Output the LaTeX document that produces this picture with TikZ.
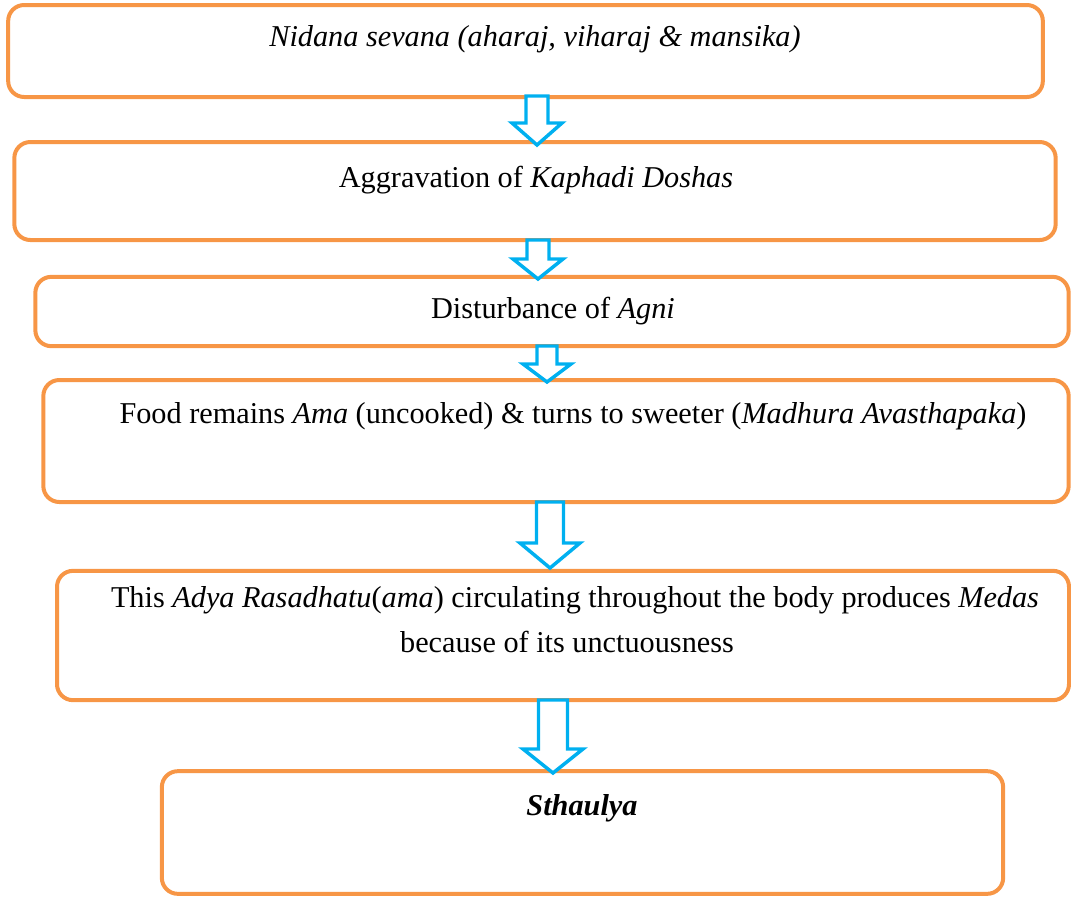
\documentclass[tikz,border=0pt]{standalone}
\usepackage{fontspec}
\setmainfont{Liberation Serif}
\usepackage{tikz}
\usetikzlibrary{calc}
\usetikzlibrary{positioning}
\definecolor{stageorange}{RGB}{247,150,70}
\definecolor{arrowblue}{RGB}{0,176,240}
\tikzset{stagebox/.style={rectangle, rounded corners=12pt, draw=stageorange, line width=3pt, fill=white}}
\tikzset{stagetext/.style={anchor=base, inner sep=0pt, font=\fontsize{22.7}{34}\selectfont}}
\tikzset{flowarrow/.style={draw=arrowblue, line width=2.6pt, fill=white, line join=miter}}
% hollow block arrow: start, tip, half shaft, half head, head length
\newcommand{\blockdown}[5]{%
  \draw[flowarrow] ($(#1)+(-#3,0)$) -- ($(#2)+(-#3,-#5)$) -- ($(#2)+(-#4,-#5)$) -- (#2)
    -- ($(#2)+(#4,-#5)$) -- ($(#2)+(#3,-#5)$) -- ($(#1)+(#3,0)$) -- cycle;}

\begin{document}
\begin{tikzpicture}[x=0.75pt, y=-0.75pt]
    \useasboundingbox (0,0) rectangle (1071,897);

    \node[stagebox, minimum width=776pt, minimum height=69pt]   (nidana)    at (525.5,51)   {};
    \node[stagebox, minimum width=781pt, minimum height=73.5pt] (dosha)     at (535,191)    {};
    \node[stagebox, minimum width=775pt, minimum height=52pt]   (agni)      at (552,311.5)  {};
    \node[stagebox, minimum width=769pt, minimum height=91.5pt] (ama)       at (556,441)    {};
    \node[stagebox, minimum width=759pt, minimum height=97pt]   (rasa)      at (563,635.5)  {};
    \node[stagebox, minimum width=631pt, minimum height=92pt]   (sthaulya)  at (582.5,832.5) {};

    \node[stagetext] (nidanatxt)   at (535,46)  {\emph{Nidana sevana (aharaj, viharaj \& mansika)}};
    \node[stagetext] (doshatxt)    at (536,187) {Aggravation of \emph{Kaphadi Doshas}};
    \node[stagetext] (agnitxt)     at (553,318) {Disturbance of \emph{Agni}};
    \node[stagetext] (amatxt)      at (573,423) {Food remains \emph{Ama} (uncooked) \& turns to sweeter (\emph{Madhura Avasthapaka})};
    \node[stagetext] (rasatxt)     at (575,607) {This \emph{Adya Rasadhatu}(\emph{ama}) circulating throughout the body produces \emph{Medas}};
    \node[stagetext] (rasatxtb)    at (567,652) {because of its unctuousness};
    \node[stagetext] (sthaulyatxt) at (582,815) {\textbf{\emph{Sthaulya}}};

    \coordinate (a1s) at (537,96);  \coordinate (a1e) at (537,145);
    \coordinate (a2s) at (538,240); \coordinate (a2e) at (538,279);
    \coordinate (a3s) at (547,346); \coordinate (a3e) at (547,382);
    \coordinate (a4s) at (550,502); \coordinate (a4e) at (550,568);
    \coordinate (a5s) at (553,700); \coordinate (a5e) at (553,773);

    \blockdown{a1s}{a1e}{11}{25}{22}
    \blockdown{a2s}{a2e}{11}{25}{20}
    \blockdown{a3s}{a3e}{10}{24}{18}
    \blockdown{a4s}{a4e}{13.5}{30}{25}
    \blockdown{a5s}{a5e}{14.5}{30}{24}
\end{tikzpicture}
\end{document}
